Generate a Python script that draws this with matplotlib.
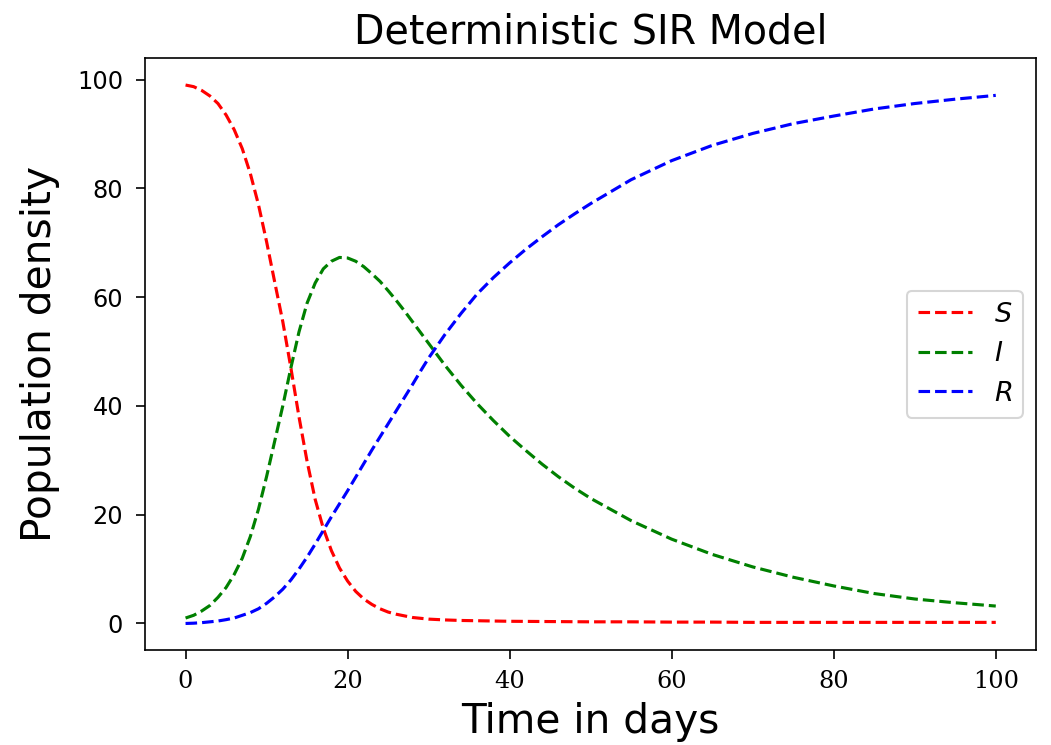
import numpy as np
import matplotlib
matplotlib.use('Agg')
import matplotlib.pyplot as plt

# Values (days, population density)
t_days = [0, 1, 2, 3, 4, 5, 6, 7, 8, 9, 10, 11, 12, 13, 14, 15, 16, 17, 18, 19,
          20, 21, 22, 23, 24, 25, 26, 27, 28, 29, 30, 32, 34, 36, 38, 40, 42, 44,
          46, 48, 50, 55, 60, 65, 70, 75, 80, 85, 90, 95, 100]

S_vals = [99.0, 98.7, 98.0, 97.0, 95.6, 93.5, 90.8, 87.3, 82.7, 77.0, 70.2, 62.8,
          55.5, 47.0, 38.0, 29.8, 22.8, 17.5, 13.4, 10.2, 7.8, 5.9, 4.5, 3.5,
          2.7, 2.1, 1.7, 1.4, 1.1, 0.95, 0.8, 0.65, 0.55, 0.5, 0.45, 0.4, 0.38,
          0.36, 0.34, 0.32, 0.3, 0.3, 0.25, 0.25, 0.2, 0.2, 0.2, 0.2, 0.2, 0.2,
          0.2]

I_vals = [1.0, 1.5, 2.3, 3.3, 4.8, 6.6, 9.0, 12.0, 16.0, 21.0, 27.0, 33.5, 40.0,
          47.0, 53.6, 58.9, 62.6, 65.2, 66.6, 67.3, 67.2, 66.6, 65.6, 64.3, 62.9,
          61.2, 59.4, 57.5, 55.5, 53.5, 51.5, 47.5, 43.8, 40.4, 37.3, 34.4, 31.8,
          29.3, 27.0, 24.9, 23.0, 18.9, 15.5, 12.7, 10.4, 8.5, 6.9, 5.5, 4.5, 3.8,
          3.2]

R_vals = [0.0, 0.05, 0.15, 0.3, 0.45, 0.7, 1.0, 1.5, 2.0, 2.7, 3.7, 4.9, 6.3, 8.0,
          10.0, 12.2, 14.6, 17.1, 19.6, 22.0, 24.4, 26.9, 29.4, 31.9, 34.3, 36.7,
          39.1, 41.5, 43.9, 46.4, 48.8, 53.1, 57.0, 60.6, 63.6, 66.3, 68.8, 71.1,
          73.3, 75.3, 77.2, 81.6, 85.1, 87.9, 90.1, 91.9, 93.3, 94.6, 95.6, 96.4,
          97.1]

series_labels = ['$S$', '$I$', '$R$']
series_colors = ['r', 'g', 'b']


def plot_sir():
    fig, ax = plt.subplots(figsize=(1051 / 150, 745 / 150), dpi=150)
    fig.subplots_adjust(left=0.138, right=0.986, top=0.922, bottom=0.127)

    for vals, lab, col in zip([S_vals, I_vals, R_vals], series_labels, series_colors):
        ax.plot(t_days, vals, linestyle='--', color=col, label=lab)

    ax.set_title('Deterministic SIR Model', fontsize=19, pad=7)
    ax.set_xlabel('Time in days', fontsize=19.5)
    ax.set_ylabel('Population density', fontsize=19.5, labelpad=8)
    ax.set_xticks(np.arange(0, 101, 20))
    ax.set_yticks(np.arange(0, 101, 20))
    ax.tick_params(axis='both', length=4.5, labelsize=11.5)
    ax.tick_params(axis='x', pad=5)
    ax.tick_params(axis='y', pad=6)
    # x tick labels are in a serif face in the original
    for lbl in ax.get_xticklabels():
        lbl.set_fontfamily('serif')

    ax.legend(loc='center right', fontsize=13)
    fig.savefig('out.png', dpi=150)


if __name__ == '__main__':
    plot_sir()
